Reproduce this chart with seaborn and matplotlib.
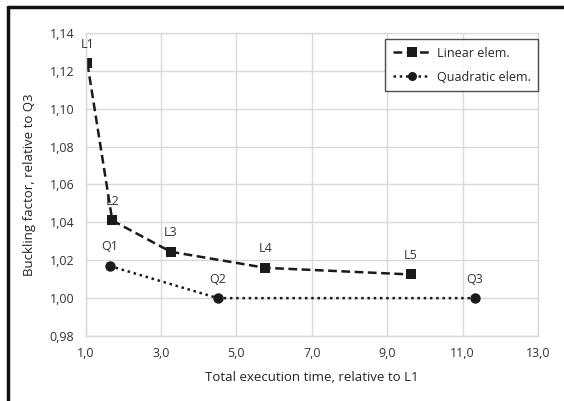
import pandas as pd
import seaborn as sns
import matplotlib.pyplot as plt
from matplotlib.lines import Line2D
from matplotlib.ticker import FuncFormatter

# Dados
lin_labels = ["L1", "L2", "L3", "L4", "L5"]
lin_time = [1.05, 1.71, 3.26, 5.77, 9.62]
lin_factor = [1.124, 1.041, 1.0245, 1.016, 1.0125]

quad_labels = ["Q1", "Q2", "Q3"]
quad_time = [1.64, 4.51, 11.32]
quad_factor = [1.017, 1.000, 1.000]

df_lin = pd.DataFrame({"tempo": lin_time, "fator": lin_factor, "rotulo": lin_labels})
df_quad = pd.DataFrame({"tempo": quad_time, "fator": quad_factor, "rotulo": quad_labels})

sns.set_theme(style="whitegrid")
plt.rcParams["font.family"] = ["Open Sans", "DejaVu Sans"]

fig = plt.figure(figsize=(5.64, 4.01), dpi=100)
ax = fig.add_axes([85.5 / 564, 1 - 336 / 401, (538 - 85.5) / 564, (336 - 33) / 401])

cor = "#1a1a1a"
sns.lineplot(data=df_lin, x="tempo", y="fator", ax=ax, color=cor, marker="s",
             markersize=7.5, linewidth=1.8, linestyle=(0, (3.5, 1.8)),
             markeredgewidth=0, sort=False)
sns.lineplot(data=df_quad, x="tempo", y="fator", ax=ax, color=cor, marker="o",
             markersize=7.5, linewidth=1.8, linestyle=(0, (1, 1.5)),
             markeredgewidth=0, sort=False)

# Rótulos dos pontos
for d in (df_lin, df_quad):
    for _, r in d.iterrows():
        ax.annotate(r["rotulo"], (r["tempo"], r["fator"]), xytext=(0, 9),
                    textcoords="offset points", ha="center", va="bottom",
                    fontsize=9, color="#333333")

ax.set_xlim(1, 13)
ax.set_ylim(0.98, 1.14)
ax.set_xticks([1, 3, 5, 7, 9, 11, 13])
ax.set_yticks([0.98, 1.00, 1.02, 1.04, 1.06, 1.08, 1.10, 1.12, 1.14])
ax.xaxis.set_major_formatter(FuncFormatter(lambda v, p: f"{v:.1f}".replace(".", ",")))
ax.yaxis.set_major_formatter(FuncFormatter(lambda v, p: f"{v:.2f}".replace(".", ",")))
ax.tick_params(labelsize=9, colors="#333333", pad=8, length=0)
ax.grid(color="#d9d9d9", linewidth=1)
for s in ax.spines.values():
    s.set_color("#d9d9d9")
    s.set_linewidth(1)

ax.set_xlabel("Total execution time, relative to L1", fontsize=9.5, color="#222222", labelpad=8)
ax.set_ylabel("Buckling factor, relative to Q3", fontsize=9.5, color="#222222", labelpad=10)

handles = [
    Line2D([], [], color=cor, marker="s", markersize=6.5, linewidth=1.8,
           linestyle=(0, (3.5, 1.8)), markeredgewidth=0),
    Line2D([], [], color=cor, marker="o", markersize=6.5, linewidth=1.8,
           linestyle=(0, (1, 1.5)), markeredgewidth=0),
]
leg = ax.legend(handles, ["Linear elem.", "Quadratic elem."], loc="upper right",
                bbox_to_anchor=(1.0, 0.98), borderaxespad=0, fontsize=9,
                frameon=True, fancybox=False, handlelength=3, handletextpad=0.5,
                borderpad=0.6, labelspacing=0.9)
leg.get_frame().set_edgecolor("#222222")
leg.get_frame().set_linewidth(1)

# Moldura externa (esquerda e topo)
fig.add_artist(Line2D([8 / 564, 8 / 564], [0, 1 - 7 / 401], color="#111111", linewidth=2.5))
fig.add_artist(Line2D([8 / 564, 1], [1 - 7 / 401, 1 - 7 / 401], color="#111111", linewidth=2.5))

fig.savefig("out.png", dpi=100)
